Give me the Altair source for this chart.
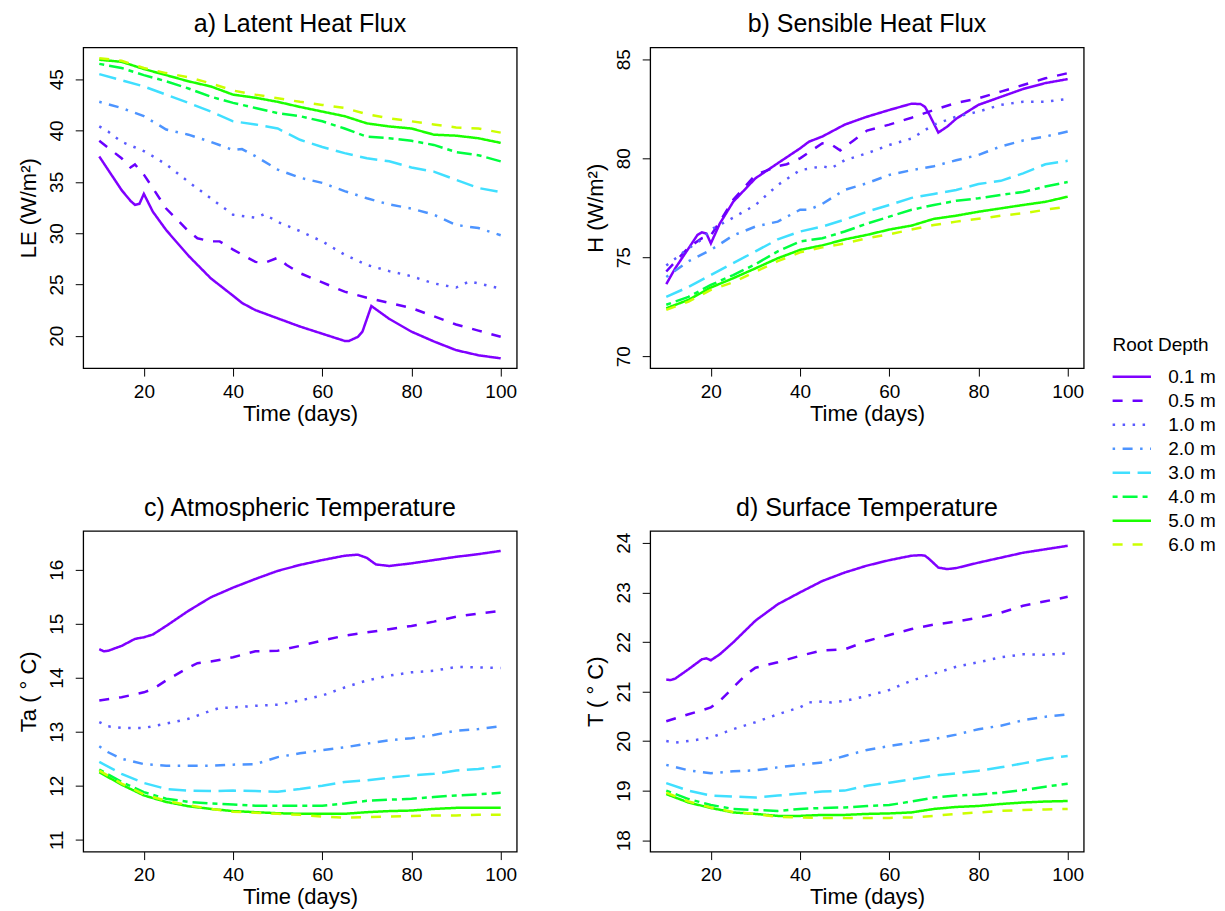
import altair as alt
import pandas as pd

DEPTHS = ["0.1 m", "0.5 m", "1.0 m", "2.0 m", "3.0 m", "4.0 m", "5.0 m", "6.0 m"]
COLORS = ["#8000FF", "#6A00FF", "#5A5AFF", "#4D94FF", "#40DFFF", "#00FF40", "#1AFF00", "#CCFF00"]
DASHES = [[1, 0], [10, 10], [2.5, 7.5], [2.5, 7.5, 10, 7.5], [17.5, 7.5], [5, 5, 15, 5], [1, 0], [10, 10]]
LEGEND_TITLE = ["Root Depth"]

DAYS = [10, 15, 20, 25, 30, 35, 40, 45, 50, 55, 60, 65, 70, 75, 80, 85, 90, 95, 100]

# ---- a) Latent heat flux ----
LE_01_X = [10, 15, 17, 18, 19, 20, 22, 25, 30, 35, 40, 42, 45, 50, 55, 60, 65, 66, 68, 69, 71, 75, 80, 85, 90, 95, 100]
LE_01 = [37.47, 34.2, 33.15, 32.76, 32.86, 33.83, 32.1, 30.3, 27.8, 25.6, 23.9, 23.2, 22.5, 21.7, 20.9, 20.2, 19.5, 19.5, 19.9, 20.4, 22.9, 21.65, 20.4, 19.45, 18.6, 18.1, 17.8]
LE_05_X = [10, 15, 17, 18, 20, 22, 25, 30, 32, 35, 37, 40, 45, 47, 50, 52, 55, 60, 65, 70, 75, 80, 85, 90, 95, 100]
LE_05 = [39.0, 37.3, 36.4, 36.7, 35.7, 34.4, 32.4, 30.2, 29.5, 29.2, 29.2, 28.4, 27.2, 27.1, 27.6, 26.9, 26.1, 25.2, 24.3, 23.7, 23.2, 22.7, 21.9, 21.1, 20.5, 19.9]
LE_10_X = [10, 12, 15, 20, 22, 25, 30, 35, 40, 45, 47, 50, 55, 60, 65, 70, 75, 80, 85, 90, 93, 95, 99]
LE_10 = [40.4, 39.9, 38.9, 38.0, 37.5, 36.7, 35.0, 33.4, 31.8, 31.5, 31.85, 31.1, 30.2, 29.2, 27.9, 26.9, 26.3, 25.8, 25.1, 24.7, 25.3, 25.1, 24.7]
LE_20_X = [10, 15, 20, 25, 30, 35, 40, 42, 45, 50, 55, 60, 65, 70, 75, 80, 85, 90, 95, 100]
LE_20 = [42.8, 42.2, 41.4, 40.1, 39.6, 38.9, 38.1, 38.2, 37.5, 36.2, 35.4, 34.9, 34.1, 33.4, 32.8, 32.4, 31.8, 30.8, 30.5, 29.8]
LE_30 = [45.5, 44.9, 44.3, 43.5, 42.7, 41.85, 40.9, 40.6, 40.2, 39.1, 38.4, 37.8, 37.3, 37.0, 36.4, 36.0, 35.2, 34.4, 34.0]
LE_40 = [46.5, 46.1, 45.4, 44.8, 44.1, 43.3, 42.7, 42.2, 41.7, 41.4, 40.9, 40.2, 39.4, 39.25, 39.0, 38.6, 37.9, 37.6, 37.0]
LE_50 = [46.9, 46.7, 46.0, 45.4, 44.8, 44.3, 43.5, 43.2, 42.8, 42.3, 41.85, 41.4, 40.7, 40.4, 40.2, 39.6, 39.5, 39.25, 38.8]
LE_60 = [47.05, 46.8, 46.1, 45.6, 45.2, 44.6, 43.9, 43.5, 43.15, 42.8, 42.5, 42.2, 41.6, 41.2, 40.9, 40.6, 40.3, 40.2, 39.8]

# ---- b) Sensible heat flux ----
H_01_X = [10, 12, 15, 17, 18, 19, 20, 22, 25, 30, 35, 40, 42, 45, 50, 55, 60, 65, 67, 68, 69, 71, 73, 75, 80, 85, 90, 95, 100]
H_01 = [73.64, 74.44, 75.45, 76.13, 76.26, 76.2, 75.7, 76.7, 77.8, 78.99, 79.75, 80.5, 80.84, 81.1, 81.7, 82.1, 82.44, 82.76, 82.74, 82.6, 82.2, 81.3, 81.6, 82.0, 82.7, 83.1, 83.5, 83.8, 84.0]
H_05_X = [10, 15, 18, 20, 22, 25, 30, 35, 37, 40, 45, 47, 49, 52, 55, 60, 65, 70, 75, 80, 85, 90, 95, 100]
H_05 = [74.28, 75.5, 75.96, 76.1, 76.8, 77.9, 79.16, 79.6, 79.7, 80.0, 80.76, 80.7, 80.4, 80.9, 81.4, 81.7, 82.05, 82.44, 82.8, 83.03, 83.37, 83.7, 84.04, 84.3]
H_10_X = [10, 15, 18, 20, 25, 30, 35, 40, 45, 47, 50, 55, 60, 65, 70, 75, 80, 85, 90, 95, 100]
H_10 = [74.58, 75.45, 75.9, 76.4, 77.0, 77.64, 78.65, 79.4, 79.6, 79.5, 79.9, 80.25, 80.67, 81.0, 81.7, 82.1, 82.36, 82.7, 82.86, 82.86, 83.0]
H_20_X = [10, 15, 20, 25, 30, 35, 40, 42, 45, 50, 55, 60, 65, 70, 75, 80, 85, 90, 95, 100]
H_20 = [74.0, 74.8, 75.37, 76.1, 76.55, 76.8, 77.4, 77.4, 77.7, 78.4, 78.74, 79.16, 79.4, 79.6, 79.9, 80.17, 80.6, 80.9, 81.1, 81.35]
H_30 = [73.0, 73.5, 74.1, 74.7, 75.3, 75.9, 76.3, 76.55, 76.9, 77.3, 77.64, 78.0, 78.2, 78.4, 78.7, 78.86, 79.24, 79.7, 79.87]
H_40 = [72.6, 73.0, 73.6, 74.1, 74.65, 75.3, 75.8, 75.96, 76.3, 76.7, 77.05, 77.4, 77.64, 77.85, 77.98, 78.15, 78.3, 78.57, 78.8]
H_50 = [72.42, 72.85, 73.47, 73.94, 74.44, 74.95, 75.37, 75.6, 75.9, 76.13, 76.4, 76.6, 76.94, 77.1, 77.3, 77.47, 77.64, 77.8, 78.06]
H_60 = [72.34, 72.76, 73.35, 73.74, 74.27, 74.8, 75.25, 75.5, 75.7, 75.96, 76.16, 76.4, 76.63, 76.8, 76.94, 77.1, 77.22, 77.4, 77.56]

# ---- c) Atmospheric temperature ----
TA_01_X = [10, 11, 12, 15, 18, 20, 22, 25, 30, 35, 40, 45, 50, 55, 60, 65, 68, 70, 72, 75, 80, 85, 90, 95, 100]
TA_01 = [14.53, 14.49, 14.5, 14.59, 14.72, 14.75, 14.8, 14.96, 15.24, 15.49, 15.67, 15.83, 15.98, 16.09, 16.18, 16.26, 16.28, 16.22, 16.1, 16.07, 16.12, 16.18, 16.24, 16.29, 16.35]
TA_05_X = [10, 15, 20, 22, 25, 30, 32, 35, 40, 45, 50, 55, 60, 65, 70, 75, 80, 85, 90, 95, 100]
TA_05 = [13.58, 13.64, 13.73, 13.79, 13.95, 14.19, 14.27, 14.3, 14.38, 14.49, 14.5, 14.59, 14.69, 14.78, 14.84, 14.9, 14.96, 15.04, 15.13, 15.19, 15.24]
TA_10_X = [10, 12, 15, 20, 25, 30, 35, 37, 40, 45, 50, 55, 60, 65, 70, 75, 80, 85, 90, 95, 100]
TA_10 = [13.18, 13.1, 13.07, 13.07, 13.15, 13.24, 13.39, 13.44, 13.45, 13.48, 13.5, 13.58, 13.67, 13.82, 13.95, 14.04, 14.1, 14.13, 14.2, 14.19, 14.18]
TA_20_X = [10, 12, 15, 20, 25, 30, 35, 40, 45, 50, 55, 60, 65, 70, 75, 80, 85, 90, 95, 100]
TA_20 = [12.73, 12.62, 12.5, 12.4, 12.37, 12.37, 12.37, 12.39, 12.4, 12.53, 12.6, 12.66, 12.71, 12.78, 12.84, 12.88, 12.94, 13.02, 13.05, 13.1]
TA_30 = [12.44, 12.22, 12.05, 11.94, 11.91, 11.9, 11.91, 11.9, 11.89, 11.94, 12.0, 12.07, 12.1, 12.15, 12.19, 12.22, 12.28, 12.31, 12.36]
TA_40 = [12.3, 12.07, 11.88, 11.76, 11.7, 11.67, 11.65, 11.63, 11.63, 11.63, 11.63, 11.67, 11.72, 11.74, 11.76, 11.79, 11.82, 11.84, 11.87]
TA_50 = [12.25, 12.02, 11.82, 11.7, 11.62, 11.57, 11.53, 11.51, 11.49, 11.48, 11.48, 11.48, 11.51, 11.53, 11.54, 11.57, 11.59, 11.59, 11.59]
TA_60 = [12.28, 12.04, 11.84, 11.72, 11.64, 11.57, 11.52, 11.5, 11.48, 11.46, 11.43, 11.41, 11.42, 11.43, 11.44, 11.45, 11.45, 11.46, 11.46]

# ---- d) Surface temperature ----
T_01_X = [10, 11, 12, 15, 18, 19, 20, 22, 25, 30, 35, 40, 45, 50, 55, 60, 65, 67, 68, 69, 71, 73, 75, 80, 85, 90, 95, 100]
T_01 = [21.24, 21.23, 21.26, 21.45, 21.65, 21.67, 21.63, 21.75, 21.99, 22.43, 22.76, 23.0, 23.23, 23.4, 23.54, 23.65, 23.74, 23.75, 23.74, 23.67, 23.5, 23.47, 23.49, 23.6, 23.7, 23.8, 23.87, 23.94]
T_05_X = [10, 15, 18, 20, 22, 25, 28, 30, 35, 40, 45, 50, 55, 60, 65, 70, 75, 80, 85, 90, 95, 100]
T_05 = [20.4, 20.54, 20.62, 20.68, 20.81, 21.08, 21.35, 21.48, 21.59, 21.72, 21.83, 21.85, 22.02, 22.14, 22.26, 22.35, 22.41, 22.49, 22.59, 22.73, 22.82, 22.91]
T_10_X = [10, 12, 15, 20, 25, 30, 35, 40, 42, 45, 47, 50, 55, 60, 65, 70, 75, 80, 85, 90, 95, 100]
T_10 = [20.0, 19.97, 20.0, 20.07, 20.24, 20.38, 20.54, 20.68, 20.78, 20.8, 20.78, 20.81, 20.91, 21.03, 21.22, 21.36, 21.5, 21.59, 21.69, 21.75, 21.74, 21.77]
T_20 = [19.52, 19.41, 19.35, 19.39, 19.41, 19.47, 19.52, 19.57, 19.7, 19.82, 19.9, 19.97, 20.04, 20.13, 20.24, 20.31, 20.42, 20.49, 20.54]
T_30 = [19.15, 19.0, 18.9, 18.88, 18.86, 18.9, 18.94, 18.98, 19.0, 19.1, 19.16, 19.23, 19.3, 19.35, 19.4, 19.47, 19.55, 19.64, 19.7]
T_40 = [19.0, 18.83, 18.71, 18.63, 18.61, 18.59, 18.63, 18.65, 18.66, 18.69, 18.71, 18.78, 18.86, 18.9, 18.92, 18.96, 19.01, 19.08, 19.14]
T_50 = [18.93, 18.76, 18.65, 18.56, 18.53, 18.49, 18.49, 18.51, 18.51, 18.53, 18.54, 18.56, 18.63, 18.67, 18.69, 18.73, 18.76, 18.78, 18.79]
T_60 = [18.96, 18.78, 18.66, 18.57, 18.53, 18.47, 18.46, 18.45, 18.45, 18.45, 18.45, 18.46, 18.49, 18.53, 18.56, 18.59, 18.61, 18.62, 18.63]

X_TICKS = [20, 40, 60, 80, 100]
X_DOMAIN = [6.4, 103.6]

FONT = "Liberation Sans"
PW, PH = 434, 321

COLOR_SCALE = alt.Scale(domain=DEPTHS, range=COLORS)
DASH_SCALE = alt.Scale(domain=DEPTHS, range=DASHES)


def build(series):
    rows = []
    for depth, (xs, ys) in zip(DEPTHS, series):
        for x, y in zip(xs, ys):
            rows.append({"day": x, "val": y, "depth": depth})
    return pd.DataFrame(rows)


def panel(df, title, ytitle, ydom, yticks):
    return alt.Chart(df).mark_line(strokeWidth=2.5, strokeCap="butt", clip=True).encode(
        x=alt.X("day:Q", scale=alt.Scale(domain=X_DOMAIN, nice=False, zero=False),
                axis=alt.Axis(values=X_TICKS, title="Time (days)")),
        y=alt.Y("val:Q", scale=alt.Scale(domain=ydom, nice=False, zero=False),
                axis=alt.Axis(values=yticks, title=ytitle)),
        color=alt.Color("depth:N", scale=COLOR_SCALE, legend=None),
        strokeDash=alt.StrokeDash("depth:N", scale=DASH_SCALE, legend=None),
    ).properties(width=PW, height=PH, title=alt.TitleParams(title, fontSize=25, font=FONT,
                                                           fontWeight="normal", color="black", offset=10))


dfa = build([(LE_01_X, LE_01), (LE_05_X, LE_05), (LE_10_X, LE_10), (LE_20_X, LE_20),
             (DAYS, LE_30), (DAYS, LE_40), (DAYS, LE_50), (DAYS, LE_60)])
dfb = build([(H_01_X, H_01), (H_05_X, H_05), (H_10_X, H_10), (H_20_X, H_20),
             (DAYS, H_30), (DAYS, H_40), (DAYS, H_50), (DAYS, H_60)])
dfc = build([(TA_01_X, TA_01), (TA_05_X, TA_05), (TA_10_X, TA_10), (TA_20_X, TA_20),
             (DAYS, TA_30), (DAYS, TA_40), (DAYS, TA_50), (DAYS, TA_60)])
dfd = build([(T_01_X, T_01), (T_05_X, T_05), (T_10_X, T_10), (DAYS, T_20),
             (DAYS, T_30), (DAYS, T_40), (DAYS, T_50), (DAYS, T_60)])

pa = panel(dfa, "a) Latent Heat Flux", "LE (W/m²)", [16.85, 48.1], [20, 25, 30, 35, 40, 45])
pb = panel(dfb, "b) Sensible Heat Flux", "H (W/m²)", [69.4, 85.6], [70, 75, 80, 85])
pc = panel(dfc, "c) Atmospheric Temperature", "Ta ( ° C)", [10.78, 16.72], [11, 12, 13, 14, 15, 16])
pd_ = panel(dfd, "d) Surface Temperature", "T ( ° C)", [17.77, 24.24], [18, 19, 20, 21, 22, 23, 24])

grid = alt.vconcat(
    alt.hconcat(pa, pb, spacing=65.6),
    alt.hconcat(pc, pd_, spacing=65.6),
    spacing=70,
)

# ---- legend drawn from the same depth categories and scales ----
leg_df = pd.DataFrame({"depth": DEPTHS})
leg_y = alt.Y("depth:N", sort=DEPTHS,
              scale=alt.Scale(type="point", domain=DEPTHS, range=[329.7, 497.7], padding=0),
              axis=None)
leg_lines = alt.Chart(leg_df).mark_rule(strokeWidth=2.5, strokeCap="butt").encode(
    x=alt.value(0), x2=alt.value(38.4), y=leg_y,
    color=alt.Color("depth:N", scale=COLOR_SCALE, legend=None),
    strokeDash=alt.StrokeDash("depth:N", scale=DASH_SCALE, legend=None),
)
leg_labels = alt.Chart(leg_df).mark_text(align="left", baseline="middle", fontSize=19,
                                         font=FONT, color="black").encode(
    x=alt.value(55.7), y=leg_y, text="depth:N",
)
leg_title = alt.Chart(pd.DataFrame({"t": LEGEND_TITLE})).mark_text(
    align="left", baseline="middle", fontSize=19, font=FONT, color="black").encode(
    x=alt.value(0), y=alt.value(298), text="t:N",
)
legend = alt.layer(leg_title, leg_lines, leg_labels).properties(
    width=100, height=520, view={"stroke": "transparent"}
)

chart = alt.hconcat(grid, legend, spacing=25.5).properties(
    padding={"left": 8.3, "top": 3, "right": 0, "bottom": 0}
).configure(font=FONT).configure_view(
    stroke="black", strokeWidth=1.3
).configure_axis(
    labelFont=FONT, titleFont=FONT, labelFontSize=19, titleFontSize=22,
    labelColor="black", titleColor="black", tickColor="black", tickWidth=1,
    tickSize=8, domain=False, grid=False, titleFontWeight="normal",
).configure_axisX(
    labelPadding=6, titlePadding=2,
).configure_axisY(
    labelAngle=-90, labelAlign="center", labelBaseline="bottom", labelPadding=9,
    minExtent=36, maxExtent=36, titlePadding=7,
)

chart.save("out.html", embed_options={"renderer": "svg", "actions": False})
